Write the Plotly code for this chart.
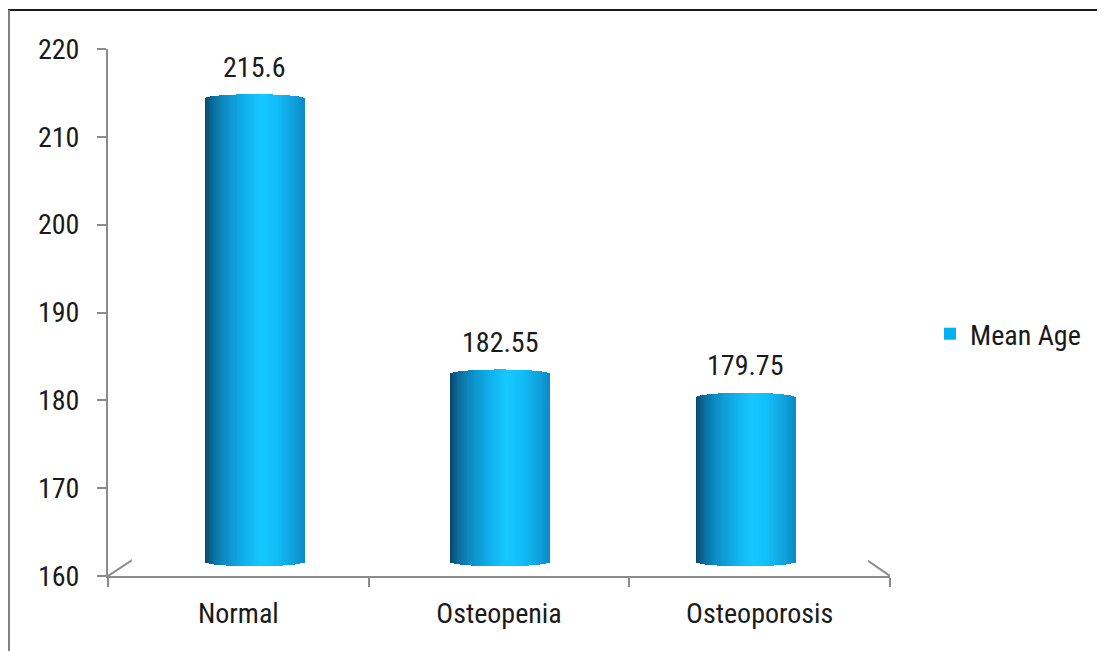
import plotly.graph_objects as go
import numpy as np

categories = ["Normal", "Osteopenia", "Osteoporosis"]
mean_age = [215.6, 182.55, 179.75]
value_labels = ["215.6", "182.55", "179.75"]
series_name = "Mean Age"
y_ticks = [160, 170, 180, 190, 200, 210, 220]

# ---- layout geometry (page pixels; page body has an 8px offset) ----
OFF = 8
W, H = 1105 - OFF, 651 - OFF
L, R = 108 - OFF, 890 - OFF          # front axis extent
T, B = 49 - OFF, 576 - OFF           # y axis: 220 at T, 160 at B
PW, PH = R - L, B - T

def px2paper_x(px):
    return (px - OFF - L) / PW

def px2paper_y(py):
    return (B - (py - OFF)) / PH

# front-axis data coordinates from page pixels (for the 3D floor outline)
def px2data_x(px):
    return -0.5 + 3 * px2paper_x(px)

def px2data_y(py):
    return y_ticks[0] + (y_ticks[-1] - y_ticks[0]) * px2paper_y(py)

# mid-depth scale for cylinders (perspective), page px
mid_left, mid_right = 131.75, 868.25
mid_base_px, mid_slope = 561.5, 8.33
y2_lo = y_ticks[0] - 1.5        # extra room so the rounded bottoms are not clipped
y2_lo_px = mid_base_px + (y_ticks[0] - y2_lo) * mid_slope
y2_top_px = mid_base_px - (y_ticks[-1] - y_ticks[0]) * mid_slope

bar_w = 99 / ((mid_right - mid_left) / 3)   # in category units
ry = 4.5 / mid_slope                           # ellipse half-height in data units

# cylinder shading stops (u from -1 left to 1 right)
stops_u = [-1.0, -0.85, -0.6, -0.2, 0.15, 0.45, 0.8, 1.0]
stops_c = [(8, 70, 102), (10, 105, 150), (12, 140, 196), (16, 176, 236),
           (22, 200, 255), (18, 190, 248), (14, 160, 220), (12, 140, 200)]

def shade(u):
    c = [np.interp(u, stops_u, [s[k] for s in stops_c]) for k in range(3)]
    return "rgb(%d,%d,%d)" % tuple(int(round(v)) for v in c)

grey = "#8c8c8c"
fig = go.Figure()

xpos = list(range(len(categories)))
base_val = y_ticks[0]

# 3D floor outline on the main axes (also makes those axes render)
floor_px = [(108, 576), (152, 547), (848, 547), (890, 576)]
fig.add_trace(go.Scatter(
    x=[px2data_x(p[0]) for p in floor_px],
    y=[px2data_y(p[1]) for p in floor_px],
    mode="lines", line=dict(color=grey, width=2),
    cliponaxis=False, showlegend=False, hoverinfo="skip"))

# legend entry
fig.add_trace(go.Scatter(x=[None], y=[None], mode="markers", name=series_name,
                         marker=dict(symbol="square", size=16, color="#00b0f0"),
                         showlegend=True, hoverinfo="skip"))

# underlying bar
fig.add_trace(go.Bar(
    x=xpos, y=[v - base_val for v in mean_age], base=base_val,
    width=bar_w, marker=dict(color="#10a8e0", line=dict(width=0)),
    name=series_name, showlegend=False, xaxis="x2", yaxis="y2",
    hoverinfo="skip"))

N = 70
step = bar_w / N
for i in range(N):
    u = -1 + (i + 0.5) * 2 / N
    arc = ry * np.sqrt(max(0.0, 1 - u * u))
    fig.add_trace(go.Bar(
        x=xpos,
        y=[v - base_val + 2 * arc for v in mean_age],
        base=base_val - arc,
        width=step * 1.35,
        offset=-bar_w / 2 + i * step - step * 0.175,
        marker=dict(color=shade(u), line=dict(width=0)),
        showlegend=False, xaxis="x2", yaxis="y2", hoverinfo="skip"))

# value labels
for x, v, t in zip(xpos, mean_age, value_labels):
    fig.add_annotation(x=x, y=v, xref="x2", yref="y2", text=t,
                       showarrow=False, yanchor="middle", yshift=31,
                       font=dict(size=28, color="#1a1a1a"))

font_family = "Liberation Sans Narrow, Arial Narrow, Roboto Condensed, Roboto, sans-serif"

# outer frame (top and left)
fig.add_shape(type="line", xref="paper", yref="paper",
              x0=px2paper_x(8), x1=px2paper_x(1105), y0=px2paper_y(10), y1=px2paper_y(10),
              line=dict(color="#1a1a1a", width=2))
fig.add_shape(type="line", xref="paper", yref="paper",
              x0=px2paper_x(9), x1=px2paper_x(9), y0=px2paper_y(10), y1=px2paper_y(651),
              line=dict(color="#808080", width=2))

fig.update_layout(
    width=W, height=H,
    margin=dict(l=L, r=W - R, t=T, b=H - B, pad=0, autoexpand=False),
    paper_bgcolor="white", plot_bgcolor="white",
    barmode="overlay", bargap=0,
    font=dict(family=font_family, size=28, color="#1a1a1a"),
    xaxis=dict(
        range=[-0.5, 2.5], tickvals=xpos, ticktext=categories,
        showline=True, linecolor=grey, linewidth=2,
        ticks="", showgrid=False, zeroline=False,
        tickfont=dict(size=28, color="#1a1a1a"),
        ticklabelstandoff=11,
        minor=dict(tickvals=[-0.5, 0.5, 1.5, 2.5], ticks="outside",
                   ticklen=9, tickwidth=2, tickcolor=grey, showgrid=False),
        fixedrange=True),
    yaxis=dict(
        range=[y_ticks[0], y_ticks[-1]], tickvals=y_ticks,
        showline=True, linecolor=grey, linewidth=2,
        ticks="outside", ticklen=9, tickwidth=2, tickcolor=grey,
        showgrid=False, zeroline=False,
        tickfont=dict(size=28, color="#1a1a1a"),
        ticklabelstandoff=12, fixedrange=True),
    xaxis2=dict(
        domain=[px2paper_x(mid_left), px2paper_x(mid_right)],
        range=[-0.5, 2.5], anchor="y2", visible=False, fixedrange=True),
    yaxis2=dict(
        domain=[max(0.0, px2paper_y(y2_lo_px)), min(1.0, px2paper_y(y2_top_px))],
        range=[y2_lo, y_ticks[-1]], anchor="x2", visible=False,
        fixedrange=True),
    legend=dict(x=px2paper_x(930), y=px2paper_y(334), xanchor="left",
                yanchor="middle", font=dict(size=28, color="#1a1a1a"),
                bgcolor="rgba(0,0,0,0)", itemsizing="constant"),
    showlegend=True,
)

fig.write_html("out.html")
